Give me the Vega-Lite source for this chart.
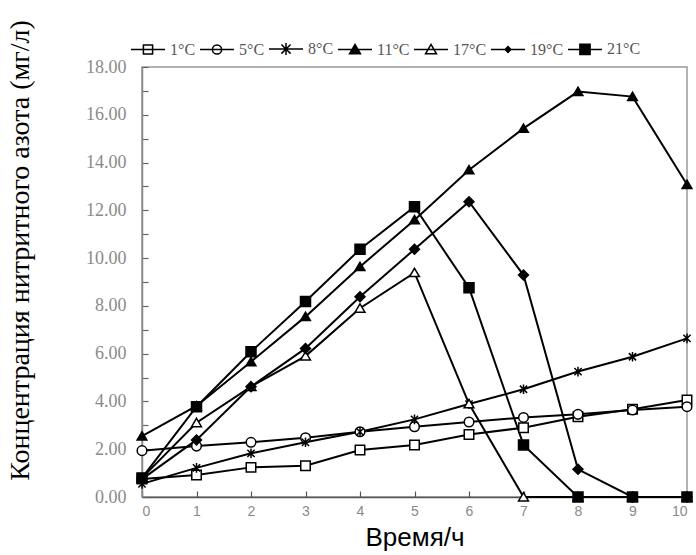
{
  "$schema": "https://vega.github.io/schema/vega-lite/v6.json",
  "width": 545,
  "height": 430,
  "autosize": "none",
  "padding": {"left": 142, "top": 67, "right": 9, "bottom": 58},
  "config": {
    "view": {"stroke": "#999999", "strokeWidth": 1.5},
    "axis": {"grid": false}
  },
  "data": {
    "values": [
      {"t": 0, "series": "1°C", "v": 0.75}, {"t": 1, "series": "1°C", "v": 0.92}, {"t": 2, "series": "1°C", "v": 1.24}, {"t": 3, "series": "1°C", "v": 1.31}, {"t": 4, "series": "1°C", "v": 1.97}, {"t": 5, "series": "1°C", "v": 2.18}, {"t": 6, "series": "1°C", "v": 2.62}, {"t": 7, "series": "1°C", "v": 2.9}, {"t": 8, "series": "1°C", "v": 3.36}, {"t": 9, "series": "1°C", "v": 3.67}, {"t": 10, "series": "1°C", "v": 4.06},
      {"t": 0, "series": "5°C", "v": 1.94}, {"t": 1, "series": "5°C", "v": 2.13}, {"t": 2, "series": "5°C", "v": 2.29}, {"t": 3, "series": "5°C", "v": 2.48}, {"t": 4, "series": "5°C", "v": 2.73}, {"t": 5, "series": "5°C", "v": 2.94}, {"t": 6, "series": "5°C", "v": 3.14}, {"t": 7, "series": "5°C", "v": 3.33}, {"t": 8, "series": "5°C", "v": 3.46}, {"t": 9, "series": "5°C", "v": 3.64}, {"t": 10, "series": "5°C", "v": 3.78},
      {"t": 0, "series": "8°C", "v": 0.55}, {"t": 1, "series": "8°C", "v": 1.22}, {"t": 2, "series": "8°C", "v": 1.83}, {"t": 3, "series": "8°C", "v": 2.29}, {"t": 4, "series": "8°C", "v": 2.73}, {"t": 5, "series": "8°C", "v": 3.25}, {"t": 6, "series": "8°C", "v": 3.89}, {"t": 7, "series": "8°C", "v": 4.51}, {"t": 8, "series": "8°C", "v": 5.25}, {"t": 9, "series": "8°C", "v": 5.87}, {"t": 10, "series": "8°C", "v": 6.64},
      {"t": 0, "series": "11°C", "v": 2.55}, {"t": 1, "series": "11°C", "v": 3.81}, {"t": 2, "series": "11°C", "v": 5.66}, {"t": 3, "series": "11°C", "v": 7.55}, {"t": 4, "series": "11°C", "v": 9.64}, {"t": 5, "series": "11°C", "v": 11.6}, {"t": 6, "series": "11°C", "v": 13.69}, {"t": 7, "series": "11°C", "v": 15.43}, {"t": 8, "series": "11°C", "v": 16.97}, {"t": 9, "series": "11°C", "v": 16.76}, {"t": 10, "series": "11°C", "v": 13.08},
      {"t": 0, "series": "17°C", "v": 0.8}, {"t": 1, "series": "17°C", "v": 3.11}, {"t": 2, "series": "17°C", "v": 4.62}, {"t": 3, "series": "17°C", "v": 5.9}, {"t": 4, "series": "17°C", "v": 7.9}, {"t": 5, "series": "17°C", "v": 9.39}, {"t": 6, "series": "17°C", "v": 3.9}, {"t": 7, "series": "17°C", "v": 0}, {"t": 8, "series": "17°C", "v": 0}, {"t": 9, "series": "17°C", "v": 0}, {"t": 10, "series": "17°C", "v": 0},
      {"t": 0, "series": "19°C", "v": 0.75}, {"t": 1, "series": "19°C", "v": 2.39}, {"t": 2, "series": "19°C", "v": 4.62}, {"t": 3, "series": "19°C", "v": 6.22}, {"t": 4, "series": "19°C", "v": 8.38}, {"t": 5, "series": "19°C", "v": 10.37}, {"t": 6, "series": "19°C", "v": 12.36}, {"t": 7, "series": "19°C", "v": 9.29}, {"t": 8, "series": "19°C", "v": 1.16}, {"t": 9, "series": "19°C", "v": 0}, {"t": 10, "series": "19°C", "v": 0},
      {"t": 0, "series": "21°C", "v": 0.8}, {"t": 1, "series": "21°C", "v": 3.78}, {"t": 2, "series": "21°C", "v": 6.08}, {"t": 3, "series": "21°C", "v": 8.18}, {"t": 4, "series": "21°C", "v": 10.37}, {"t": 5, "series": "21°C", "v": 12.15}, {"t": 6, "series": "21°C", "v": 8.76}, {"t": 7, "series": "21°C", "v": 2.18}, {"t": 8, "series": "21°C", "v": 0}, {"t": 9, "series": "21°C", "v": 0}, {"t": 10, "series": "21°C", "v": 0}
    ]
  },
  "encoding": {
    "x": {
      "field": "t", "type": "quantitative",
      "scale": {"domain": [0, 10], "nice": false},
      "axis": {
        "title": "Время/ч", "values": [0,1,2,3,4,5,6,7,8,9,10], "format": "d",
        "tickSize": -6, "tickColor": "#555555", "tickWidth": 1.2,
        "domainColor": "#555555", "domainWidth": 1.5,
        "labelFont": "Liberation Sans", "labelFontSize": 14, "labelColor": "#8a8a8a", "labelPadding": 13,
        "titleFont": "Liberation Sans", "titleFontSize": 26, "titleFontWeight": "normal", "titleColor": "#000000", "titlePadding": 6
      }
    },
    "y": {
      "field": "v", "type": "quantitative",
      "scale": {"domain": [0, 18], "nice": false},
      "axis": {
        "title": "Концентрация нитритного азота (мг/л)",
        "values": [0,1,2,3,4,5,6,7,8,9,10,11,12,13,14,15,16,17,18],
        "labelExpr": "datum.value % 2 == 0 ? format(datum.value, '.2f') : ''",
        "tickSize": -6, "tickColor": "#666666", "tickWidth": 1.2,
        "domainColor": "#888888", "domainWidth": 1.5,
        "labelFont": "Liberation Serif", "labelFontSize": 18, "labelColor": "#8a8a8a", "labelPadding": 22,
        "titleFont": "Liberation Serif", "titleFontSize": 28, "titleFontWeight": "normal", "titleColor": "#000000",
        "titleX": -122, "titleY": 183, "titleBaseline": "middle", "titleAngle": -90
      }
    }
  },
  "layer": [
    {
      "mark": {"type": "line", "color": "#000000", "strokeWidth": 2},
      "encoding": {
        "detail": {"field": "series"},
        "order": {"field": "t"}
      }
    },
    {
      "mark": {"type": "point", "filled": true, "stroke": "#000000", "strokeWidth": 1.5, "opacity": 1},
      "encoding": {
        "shape": {
          "field": "series", "type": "nominal", "legend": null,
          "scale": {
            "domain": ["1°C","5°C","8°C","11°C","17°C","19°C","21°C"],
            "range": [
              "M-1,-1H1V1H-1Z",
              "circle",
              "M0,-1V1M-0.75,-0.75L0.75,0.75M-0.75,0.75L0.75,-0.75",
              "M0,-0.9L1,0.8H-1Z",
              "M0,-0.9L1,0.8H-1Z",
              "M0,-1L1,0L0,1L-1,0Z",
              "M-1,-1H1V1H-1Z"
            ]
          }
        },
        "fill": {
          "field": "series", "type": "nominal", "legend": null,
          "scale": {
            "domain": ["1°C","5°C","8°C","11°C","17°C","19°C","21°C"],
            "range": ["#ffffff","#ffffff","#ffffff","#000000","#ffffff","#000000","#000000"]
          }
        },
        "size": {
          "field": "series", "type": "nominal", "legend": null,
          "scale": {
            "domain": ["1°C","5°C","8°C","11°C","17°C","19°C","21°C"],
            "range": [90, 100, 200, 100, 121, 45, 121]
          }
        }
      }
    },
    {
      "transform": [{"filter": "datum.t < 0"}],
      "mark": {"type": "point", "filled": true, "strokeWidth": 1.5, "opacity": 1},
      "encoding": {
        "shape": {
          "field": "series", "type": "nominal",
          "scale": {
            "domain": ["1°C","5°C","8°C","11°C","17°C","19°C","21°C"],
            "range": [
              "M-1,0H1M-0.27,-0.27H0.27V0.27H-0.27Z",
              "M-1,0H1M-0.27,0A0.27,0.27 0 1,0 0.27,0A0.27,0.27 0 1,0 -0.27,0Z",
              "M-1,0H1M0,-0.35V0.35M-0.27,-0.27L0.27,0.27M-0.27,0.27L0.27,-0.27",
              "M-1,0H1M0,-0.3L0.32,0.25H-0.32Z",
              "M-1,0H1M0,-0.3L0.32,0.25H-0.32Z",
              "M-1,0H1M0,-0.17L0.17,0L0,0.17L-0.17,0Z",
              "M-1,0H1M-0.3,-0.3H0.3V0.3H-0.3Z"
            ]
          },
          "legend": {
            "orient": "none", "direction": "horizontal", "columns": 7,
            "legendX": -12, "legendY": -36, "title": null,
            "symbolSize": 1156, "symbolStrokeWidth": 1.5,
            "labelFont": "Liberation Serif", "labelFontSize": 16, "labelColor": "#555555",
            "labelOffset": 4, "columnPadding": 1
          }
        },
        "fill": {
          "field": "series", "type": "nominal",
          "scale": {
            "domain": ["1°C","5°C","8°C","11°C","17°C","19°C","21°C"],
            "range": ["#ffffff","#ffffff","#ffffff","#000000","#ffffff","#000000","#000000"]
          }
        },
        "stroke": {
          "field": "series", "type": "nominal",
          "scale": {
            "domain": ["1°C","5°C","8°C","11°C","17°C","19°C","21°C"],
            "range": ["#000000","#000000","#000000","#000000","#000000","#000000","#000000"]
          }
        }
      }
    }
  ],
  "resolve": {"scale": {"shape": "independent", "fill": "independent", "size": "independent", "stroke": "independent"}}
}
